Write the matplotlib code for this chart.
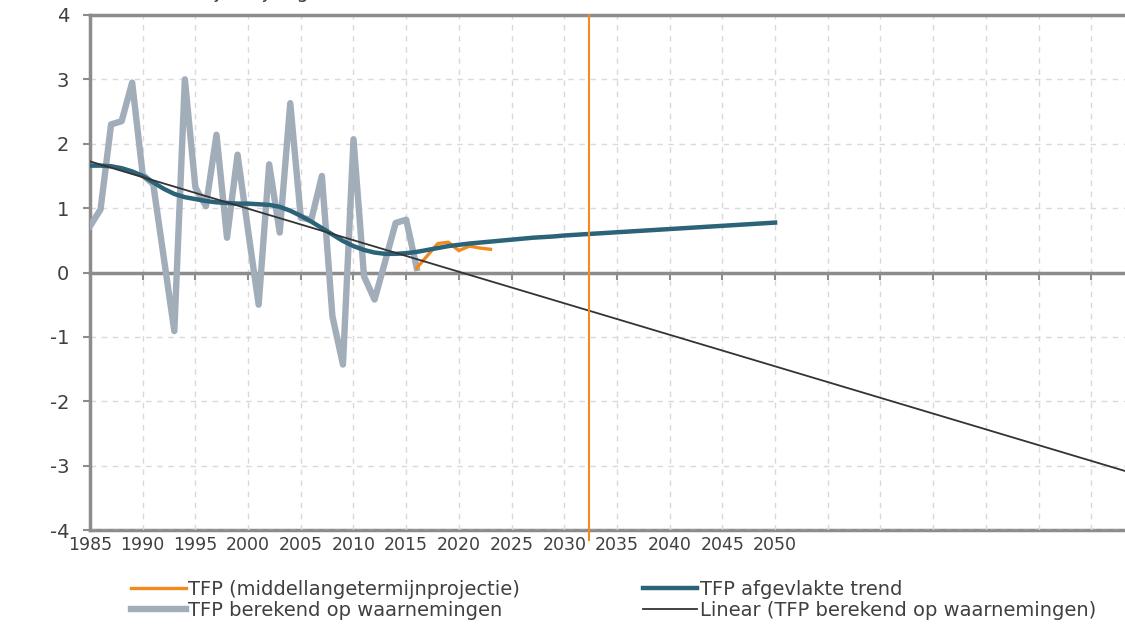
import matplotlib.pyplot as plt
import numpy as np

# observed TFP growth (%), 1985-2016
obs_years = list(range(1985, 2017))
obs_tfp = [0.72, 0.98, 2.30, 2.35, 2.95, 1.52, 1.37, 0.23, -0.91, 3.00,
           1.32, 1.03, 2.14, 0.54, 1.83, 0.65, -0.50, 1.68, 0.62, 2.63,
           0.85, 0.82, 1.50, -0.68, -1.43, 2.07, -0.06, -0.42, 0.17, 0.77,
           0.82, 0.07]

# medium-term projection
proj_years = list(range(2016, 2024))
proj_tfp = [0.07, 0.26, 0.45, 0.47, 0.34, 0.41, 0.38, 0.36]

# smoothed trend, 1985-2050
trend_years = list(range(1985, 2051))
trend_tfp = [1.66, 1.66, 1.65, 1.62, 1.57, 1.50, 1.40, 1.30, 1.22, 1.17,
             1.14, 1.11, 1.09, 1.08, 1.07, 1.07, 1.06, 1.05, 1.02, 0.96,
             0.88, 0.79, 0.69, 0.59, 0.49, 0.41, 0.35, 0.31, 0.29, 0.29,
             0.30, 0.32, 0.35, 0.38, 0.41, 0.43, 0.45, 0.465, 0.48, 0.495,
             0.51, 0.525, 0.54, 0.55, 0.56, 0.575, 0.585, 0.595, 0.605, 0.615,
             0.625, 0.635, 0.645, 0.655, 0.665, 0.675, 0.685, 0.695, 0.705, 0.715,
             0.725, 0.735, 0.745, 0.755, 0.765, 0.775]

xtick_years = list(range(1985, 2085, 5))
xtick_labels = [str(y) if y <= 2050 else '' for y in xtick_years]
marker_year = 2032.3

c_obs = '#A2ADBA'
c_proj = '#F28A1E'
c_trend = '#2B6378'
c_lin = '#333333'
c_axis = '#8C8C8C'
c_grid = '#D9D9D9'
c_text = '#404040'

plt.rcParams['font.family'] = ['DejaVu Sans']
plt.rcParams['font.size'] = 13.5
plt.rcParams['axes.unicode_minus'] = False

fig = plt.figure(figsize=(11.25, 6.24), dpi=100)
ax = fig.add_axes([0.08, 0.1506, 0.92, 0.8254])

# linear trendline through the observations, extended to the edge
coef = np.polyfit(obs_years, obs_tfp, 1)
lin_x = np.array([1985, 2084])
lin_y = np.polyval(coef, lin_x)

ax.plot(proj_years, proj_tfp, color=c_proj, lw=2.4, zorder=4,
        label='TFP (middellangetermijnprojectie)')
ax.plot(obs_years, obs_tfp, color=c_obs, lw=4.6, zorder=3,
        label='TFP berekend op waarnemingen')
ax.plot(trend_years, trend_tfp, color=c_trend, lw=3.2, zorder=5,
        label='TFP afgevlakte trend')
ax.plot(lin_x, lin_y, color=c_lin, lw=1.3, zorder=6,
        label='Linear (TFP berekend op waarnemingen)')

ax.axvline(marker_year, ymin=-0.02, ymax=1, color=c_proj, lw=1.5,
           clip_on=False, zorder=7)

ax.set_xlim(1985, 2083.2)
ax.set_ylim(-4, 4)

ax.set_yticks(range(-4, 5))
ax.set_xticks(xtick_years)
ax.grid(True, color=c_grid, ls=(0, (4, 4)), lw=1.0)
ax.set_axisbelow(True)

# horizontal axis crosses at zero
ax.spines['bottom'].set_position(('data', 0))
ax.spines['bottom'].set_color(c_axis)
ax.spines['bottom'].set_linewidth(2.5)
ax.spines['left'].set_color(c_axis)
ax.spines['left'].set_linewidth(2.5)
ax.spines['top'].set_color(c_axis)
ax.spines['top'].set_linewidth(2.5)
ax.spines['right'].set_visible(False)
ax.tick_params(axis='x', direction='out', length=5, width=1.5,
               color=c_axis, labelbottom=False)
ax.tick_params(axis='y', direction='out', length=5, width=1.5,
               color=c_axis, labelcolor=c_text, labelsize=14, pad=10)

# labels along the bottom edge of the plot area
sec = ax.secondary_xaxis(0.0)
sec.set_xticks(xtick_years)
sec.set_xticklabels(xtick_labels)
sec.spines['bottom'].set_color(c_axis)
sec.spines['bottom'].set_linewidth(2.5)
sec.tick_params(length=0, pad=4, labelcolor=c_text, labelsize=12.5)

# axis caption, only its lower edge falls inside the picture
fig.text(0.09, 1.004, '%-mutatie, jaarlijks gemiddeld', color=c_text,
         fontsize=14, va='baseline', ha='left')

h, l = ax.get_legend_handles_labels()
fig.legend(h, l, loc='lower left', bbox_to_anchor=(0.101, -0.022), ncol=2,
           frameon=False, handlelength=2.8, handletextpad=0.15,
           columnspacing=6.3, labelspacing=0.12, fontsize=14,
           labelcolor=c_text)

fig.savefig('out.png', dpi=100)
